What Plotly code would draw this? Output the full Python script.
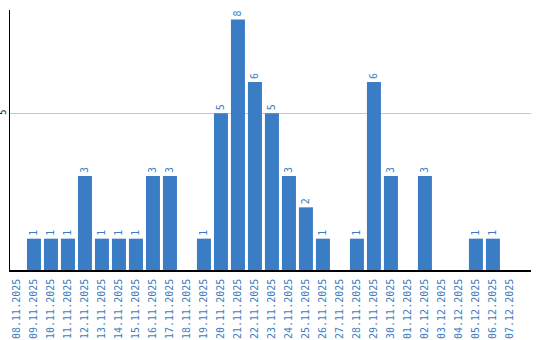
import plotly.graph_objects as go

dates = ["08.11.2025", "09.11.2025", "10.11.2025", "11.11.2025", "12.11.2025",
         "13.11.2025", "14.11.2025", "15.11.2025", "16.11.2025", "17.11.2025",
         "18.11.2025", "19.11.2025", "20.11.2025", "21.11.2025", "22.11.2025",
         "23.11.2025", "24.11.2025", "25.11.2025", "26.11.2025", "27.11.2025",
         "28.11.2025", "29.11.2025", "30.11.2025", "01.12.2025", "02.12.2025",
         "03.12.2025", "04.12.2025", "05.12.2025", "06.12.2025", "07.12.2025"]
counts = [0, 1, 1, 1, 3, 1, 1, 1, 3, 3,
          0, 1, 5, 8, 6, 5, 3, 2, 1, 0,
          1, 6, 3, 0, 3, 0, 0, 1, 1, 0]

BLUE = "#3b7dc4"

fig = go.Figure(go.Bar(
    x=dates, y=counts,
    marker=dict(color=BLUE, line=dict(width=0)),
    text=[str(v) if v else "" for v in counts],
    textposition="outside",
    textangle=-90,
    textfont=dict(family="DejaVu Sans Mono", size=10, color=BLUE),
    cliponaxis=False,
    hoverinfo="skip",
))

fig.update_layout(
    width=540, height=340,
    margin=dict(l=10, r=9, t=10, b=70),
    paper_bgcolor="white", plot_bgcolor="white",
    bargap=0.176,
    showlegend=False,
    xaxis=dict(
        type="category",
        range=[-0.41, 30.24],
        tickangle=-90,
        tickfont=dict(family="DejaVu Sans Mono", size=10, color=BLUE),
        showline=True, linecolor="black", linewidth=1.5,
        showgrid=False, ticks="", zeroline=False,
        automargin=False, ticklabelstandoff=3,
    ),
    yaxis=dict(
        range=[0, 8.3],
        tickvals=[5],
        ticktext=["5"],
        tickangle=-90,
        tickfont=dict(family="DejaVu Sans", size=8, color="black"),
        showline=True, linecolor="black", linewidth=1,
        showgrid=True, gridcolor="#c8c8c8", gridwidth=1,
        zeroline=False, ticks="",
        automargin=False, ticklabelstandoff=0,
    ),
)

fig.write_html("out.html")
